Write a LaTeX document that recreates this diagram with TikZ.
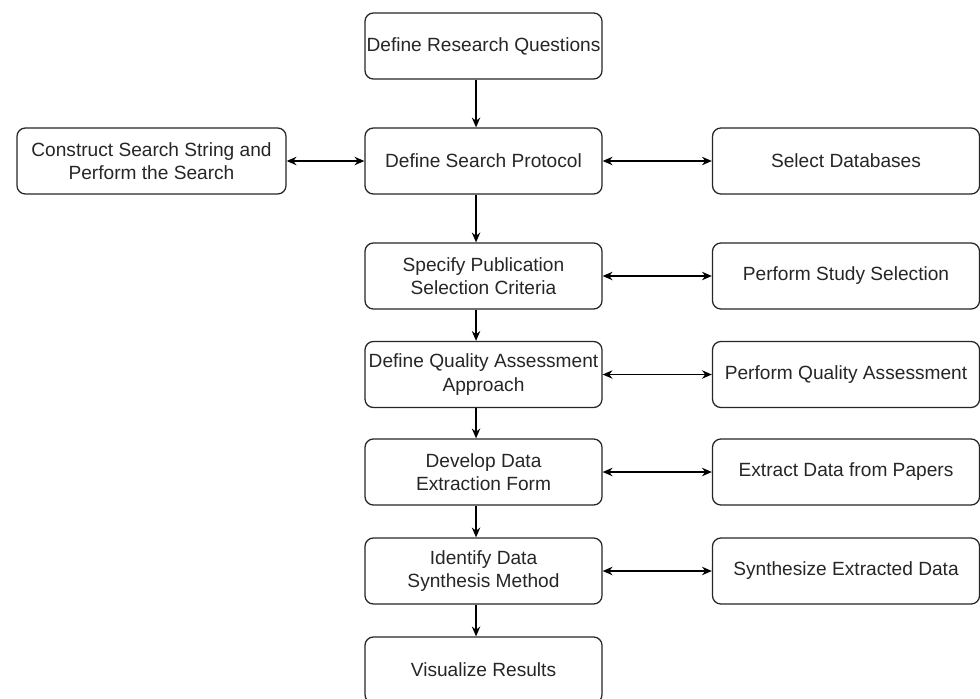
\documentclass[tikz,border=0pt]{standalone}
\usepackage{fontspec}
\setmainfont{Liberation Sans}
\usetikzlibrary{arrows.meta, positioning}

\tikzset{
  stepbox/.style={draw=black!85, line width=0.9pt, rounded corners=6pt, fill=white,
    align=center, minimum width=5.925cm, minimum height=1.65cm, inner sep=1pt,
    font=\fontsize{13.6}{16.5}\selectfont, text=black!85},
  sidebox/.style={stepbox, minimum width=6.675cm},
  flow/.style={-{Stealth[length=7pt,width=6pt]}, line width=0.9pt},
  link/.style={{Stealth[length=7pt,width=6pt]}-{Stealth[length=7pt,width=6pt]}, line width=1pt}
}

\begin{document}
\begin{tikzpicture}[x=0.025cm, y=-0.025cm]

\useasboundingbox (0,0) rectangle (980,698);

% Coluna principal
\node[stepbox] (rq) at (483.5,46) {Define Research Questions};
\node[stepbox] (proto) at (483.5,161) {Define Search Protocol};
\node[stepbox] (crit) at (483.5,276) {Specify Publication\\Selection Criteria};
\node[stepbox] (qual) at (483.5,374.5) {Define Quality Assessment\\Approach};
\node[stepbox] (form) at (483.5,472) {Develop Data\\Extraction Form};
\node[stepbox] (synth) at (483.5,571) {Identify Data\\Synthesis Method};
\node[stepbox] (vis) at (483.5,670) {Visualize Results};

% Caixa da esquerda
\node[stepbox, minimum width=6.725cm] (search) at (151.5,161) {Construct Search String and\\Perform the Search};

% Coluna da direita
\node[sidebox] (db) at (846,161) {Select Databases};
\node[sidebox] (sel) at (846,276) {Perform Study Selection};
\node[sidebox] (qa) at (846,374.5) {Perform Quality Assessment};
\node[sidebox] (ext) at (846,472) {Extract Data from Papers};
\node[sidebox] (syn) at (846,571) {Synthesize Extracted Data};

% Setas verticais
\draw[flow] ([xshift=-5.3pt]rq.south) -- ([xshift=-5.3pt]proto.north);
\draw[flow] ([xshift=-5.3pt]proto.south) -- ([xshift=-5.3pt]crit.north);
\draw[flow] ([xshift=-5.3pt]crit.south) -- ([xshift=-5.3pt]qual.north);
\draw[flow] ([xshift=-5.3pt]qual.south) -- ([xshift=-5.3pt]form.north);
\draw[flow] ([xshift=-5.3pt]form.south) -- ([xshift=-5.3pt]synth.north);
\draw[flow] ([xshift=-5.3pt]synth.south) -- ([xshift=-5.3pt]vis.north);

% Setas duplas
\draw[link] (search) -- (proto);
\draw[link] (proto) -- (db);
\draw[link] (crit) -- (sel);
\draw[link] (qual) -- (qa);
\draw[link] (form) -- (ext);
\draw[link] (synth) -- (syn);

\end{tikzpicture}
\end{document}
